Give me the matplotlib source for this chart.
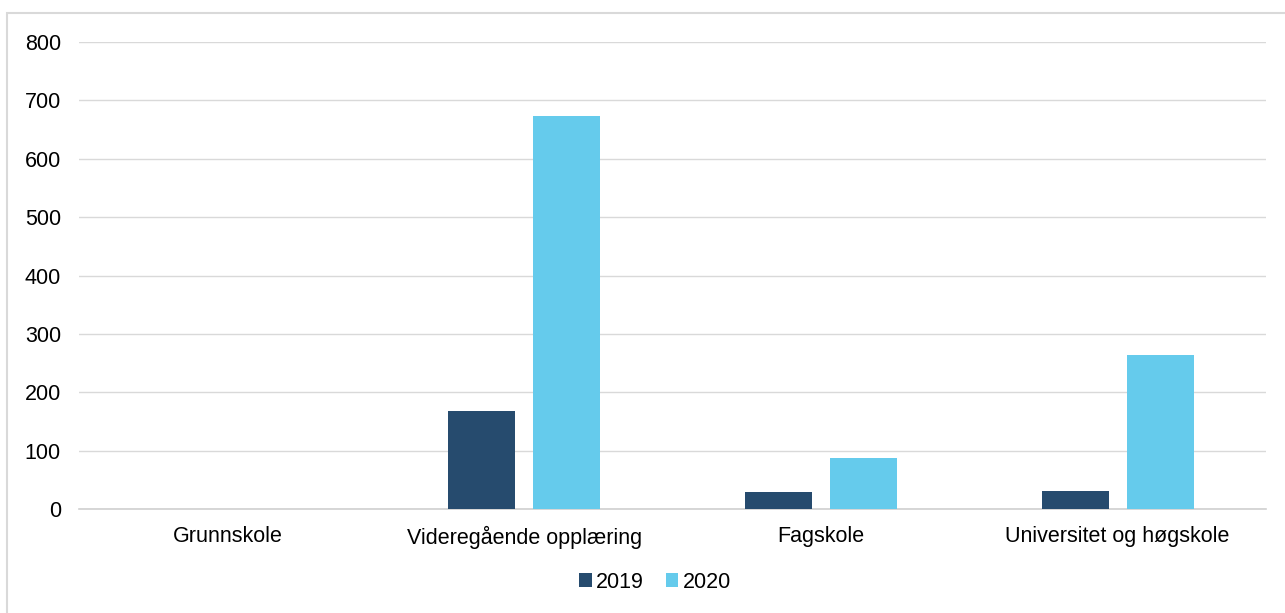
import numpy as np
import matplotlib.pyplot as plt
from matplotlib.patches import Rectangle

plt.rcParams['font.family'] = ['Liberation Sans', 'DejaVu Sans']

kategorier = ['Grunnskole', 'Videregående opplæring', 'Fagskole', 'Universitet og høgskole']
verdier_2019 = [0, 168, 29, 30]
verdier_2020 = [0, 674, 88, 264]

farge_2019 = '#264b6e'
farge_2020 = '#65cbec'

fig = plt.figure(figsize=(12.85, 6.13), dpi=100)
ax = fig.add_axes([79/1285, 1 - 509/613, (1266-79)/1285, (509-42)/613])

x = np.arange(len(kategorier))
b = 0.226
ax.bar(x - 0.143, verdier_2019, width=b, color=farge_2019, label='2019', zorder=3)
ax.bar(x + 0.143, verdier_2020, width=b, color=farge_2020, label='2020', zorder=3)

ax.set_xlim(-0.5, len(kategorier) - 0.5)
ax.set_ylim(0, 800)
ax.set_yticks(range(0, 801, 100))
ax.set_xticks(x)
ax.set_xticklabels(kategorier)
ax.yaxis.grid(True, color='#d9d9d9', linewidth=1, zorder=0)
for s in ['top', 'right', 'left']:
    ax.spines[s].set_visible(False)
ax.spines['bottom'].set_color('#d0d0d0')
ax.spines['bottom'].set_linewidth(1.2)
ax.tick_params(axis='both', length=0, labelsize=15.5, colors='black')
ax.tick_params(axis='y', pad=13)
ax.tick_params(axis='x', pad=12)

ax.legend(loc='center', bbox_to_anchor=(655/1285, 1 - 582/613), bbox_transform=fig.transFigure,
          ncol=2, frameon=False, fontsize=15.5, handlelength=0.6, handleheight=0.6,
          handletextpad=0.2, columnspacing=1.0)

fig.patches.append(Rectangle((7/1285, -0.01), 1.0, 1 - 13/613 + 0.01, transform=fig.transFigure,
                             fill=False, edgecolor='#d9d9d9', linewidth=1.5))

fig.savefig('out.png', dpi=100)
